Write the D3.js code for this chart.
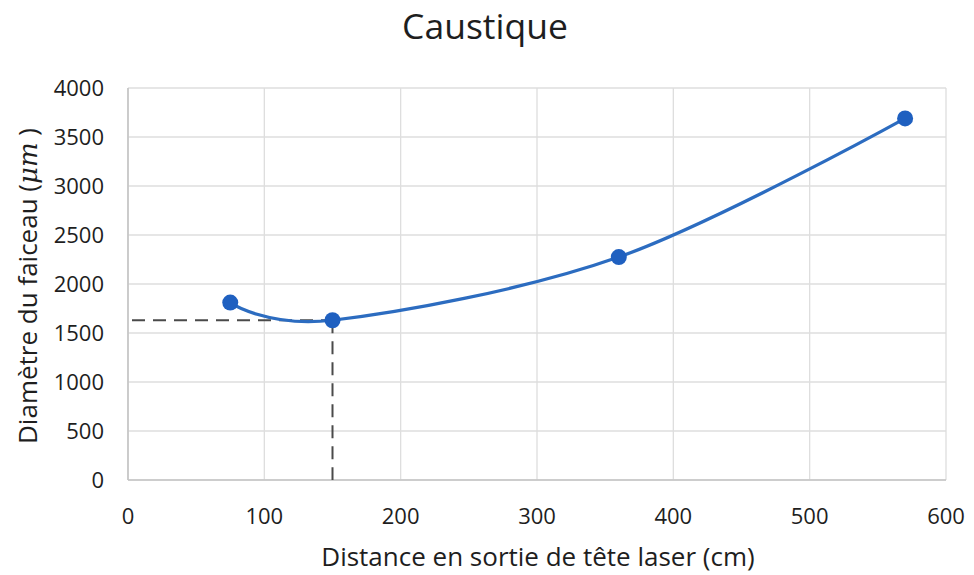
<!DOCTYPE html>
<html><head><meta charset="utf-8">
<script src="https://cdn.jsdelivr.net/npm/d3@7"></script>
<style>body{margin:0;background:#fff;} text{font-family:"Open Sans",sans-serif;fill:#1e1e1e;}</style>
</head><body><svg id="c" width="974" height="575"></svg>
<script>
const distances = [75, 150, 360, 570];
const diameters = [1810, 1630, 2275, 3690];
const xTicks = [0, 100, 200, 300, 400, 500, 600];
const yTicks = [0, 500, 1000, 1500, 2000, 2500, 3000, 3500, 4000];
const waist = {x: 150, y: 1630};

const svg = d3.select("#c");
const x = d3.scaleLinear().domain([0, 600]).range([128, 946]);
const y = d3.scaleLinear().domain([0, 4000]).range([480, 88]);

svg.append("text").attr("x", 485).attr("y", 39).attr("text-anchor", "middle")
  .style("font-size", "35.5px").text("Caustique");

const g = svg.append("g");
g.selectAll(".hg").data(yTicks).join("line")
  .attr("x1", x(0)).attr("x2", x(600)).attr("y1", d => y(d)).attr("y2", d => y(d))
  .attr("stroke", "#dedede").attr("stroke-width", 1.3);
g.selectAll(".vg").data(xTicks).join("line")
  .attr("y1", y(0)).attr("y2", y(4000)).attr("x1", d => x(d)).attr("x2", d => x(d))
  .attr("stroke", "#dedede").attr("stroke-width", 1.3);
g.append("line").attr("x1", x(0)).attr("x2", x(0)).attr("y1", y(0)).attr("y2", y(4000)).attr("stroke", "#c4c4c4").attr("stroke-width", 1.6);
g.append("line").attr("x1", x(0)).attr("x2", x(600)).attr("y1", y(0)).attr("y2", y(0)).attr("stroke", "#c4c4c4").attr("stroke-width", 1.6);

svg.selectAll(".yt").data(yTicks).join("text")
  .attr("x", 104).attr("y", d => y(d) + 8).attr("text-anchor", "end")
  .style("font-size", "22px").text(d => d);
svg.selectAll(".xt").data(xTicks).join("text")
  .attr("x", d => x(d)).attr("y", 524).attr("text-anchor", "middle")
  .style("font-size", "22px").text(d => d);

svg.append("text").attr("x", 538).attr("y", 566).attr("text-anchor", "middle")
  .style("font-size", "26px").text("Distance en sortie de tête laser (cm)");

const yl = svg.append("text").attr("transform", "translate(37,286) rotate(-90)")
  .attr("text-anchor", "middle").style("font-size", "26px");
yl.append("tspan").text("Diamètre du faiceau  (");
yl.append("tspan").style("font-style", "italic").style("font-family", "DejaVu Serif").text("μm");
yl.append("tspan").text(" )");

// dashed guide lines
svg.append("line").attr("x1", x(0) + 4).attr("x2", x(waist.x)).attr("y1", y(waist.y)).attr("y2", y(waist.y))
  .attr("stroke", "#4a4a4a").attr("stroke-width", 2).attr("stroke-dasharray", "13,8");
svg.append("line").attr("x1", x(waist.x)).attr("x2", x(waist.x)).attr("y1", y(waist.y)).attr("y2", y(0))
  .attr("stroke", "#4a4a4a").attr("stroke-width", 2).attr("stroke-dasharray", "13,8");

const data = distances.map((d, i) => ({x: d, y: diameters[i]}));
const line = d3.line().x(d => x(d.x)).y(d => y(d.y)).curve(d3.curveCardinal.tension(0));
svg.append("path").datum(data).attr("d", line).attr("fill", "none")
  .attr("stroke", "#2c6cc0").attr("stroke-width", 3.2);
svg.selectAll(".pt").data(data).join("circle")
  .attr("cx", d => x(d.x)).attr("cy", d => y(d.y)).attr("r", 8).attr("fill", "#1f60c0");
</script></body></html>
